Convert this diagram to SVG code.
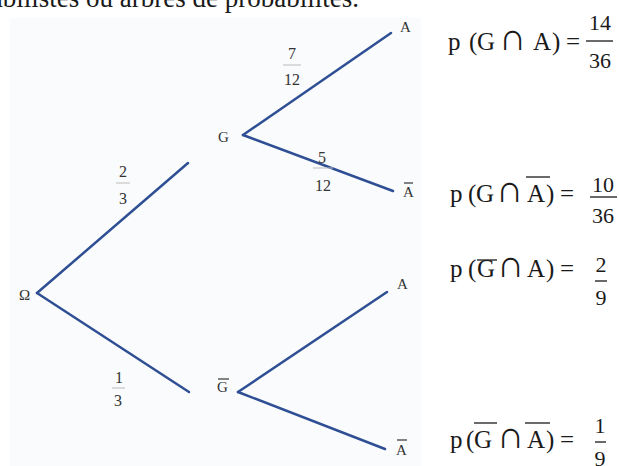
<svg xmlns="http://www.w3.org/2000/svg" width="619" height="466" viewBox="0 0 619 466">
<style>
.t{font-family:"Liberation Serif","DejaVu Serif",serif;fill:#1a1a1a}
.n{font-size:15px;fill:#333}
.fr{font-size:16px;fill:#333;text-anchor:middle}
.f{font-size:25px}
.c{font-family:"DejaVu Sans",sans-serif;font-size:38px;font-weight:200}
.d{font-size:22px;text-anchor:middle}
.e{stroke:#2f4f94;stroke-width:2.5;fill:none;stroke-linecap:round}
.fl{stroke:#bbb;stroke-width:1}
.ob{stroke:#333;stroke-width:1.2}
.fb{stroke:#1a1a1a;stroke-width:1.3}
</style>
<rect width="619" height="466" fill="#fff"/>
<rect x="10" y="18" width="411" height="448" fill="#fafbfc"/>
<text class="t" x="359" y="7" font-size="27" text-anchor="end">babilistes ou arbres de probabilités.</text>
<g id="connectors">
<line class="e" x1="37" y1="293" x2="188" y2="163"/>
<line class="e" x1="37" y1="293" x2="189" y2="392"/>
<line class="e" x1="243" y1="135" x2="391" y2="33"/>
<line class="e" x1="243" y1="135" x2="393" y2="191"/>
<line class="e" x1="238" y1="392" x2="387" y2="292"/>
<line class="e" x1="238" y1="392" x2="385" y2="449"/>
</g>
<g id="label-2-3"><text class="t fr" x="123" y="177">2</text><line class="fl" x1="116" y1="183" x2="130" y2="183"/><text class="t fr" x="123" y="204">3</text></g>
<g id="label-1-3"><text class="t fr" x="119" y="383">1</text><line class="fl" x1="112" y1="388" x2="125" y2="388"/><text class="t fr" x="118" y="406">3</text></g>
<g id="label-7-12"><text class="t fr" x="292" y="59">7</text><line class="fl" x1="283" y1="65" x2="301" y2="65"/><text class="t fr" x="292" y="85">12</text></g>
<g id="label-5-12"><text class="t fr" x="322" y="163">5</text><line class="fl" x1="313" y1="168" x2="333" y2="168"/><text class="t fr" x="323" y="191">12</text></g>
<g id="node-omega"><text class="t n" x="19" y="300">Ω</text></g>
<g id="node-G"><text class="t n" x="218" y="142">G</text></g>
<g id="node-Gbar"><text class="t n" x="217" y="392">G</text><line class="ob" x1="218" y1="379" x2="229" y2="379"/></g>
<g id="node-A1"><text class="t n" x="400" y="32">A</text></g>
<g id="node-Abar1"><text class="t n" x="403" y="197">A</text><line class="ob" x1="404" y1="183" x2="413" y2="183"/></g>
<g id="node-A2"><text class="t n" x="397" y="289">A</text></g>
<g id="node-Abar2"><text class="t n" x="396" y="455">A</text><line class="ob" x1="397" y1="440" x2="407" y2="440"/></g>
<g id="formula-1">
<text class="t f" y="50"><tspan x="448">p</tspan><tspan x="469">(</tspan><tspan x="477">G</tspan><tspan class="c" x="499">∩</tspan><tspan x="533">A</tspan><tspan x="552">)</tspan><tspan x="566">=</tspan></text>
<text class="t d" x="600" y="30">14</text><line class="fb" x1="586" y1="41" x2="613" y2="41"/><text class="t d" x="600" y="68">36</text>
</g>
<g id="formula-2">
<text class="t f" y="202"><tspan x="450">p</tspan><tspan x="468">(</tspan><tspan x="476">G</tspan><tspan class="c" x="496">∩</tspan><tspan x="527">A</tspan><tspan x="546">)</tspan><tspan x="560">=</tspan></text>
<line class="fb" x1="526" y1="177" x2="550" y2="177"/>
<text class="t d" x="603" y="192">10</text><line class="fb" x1="590" y1="197" x2="617" y2="197"/><text class="t d" x="603" y="223">36</text>
</g>
<g id="formula-3">
<text class="t f" y="277"><tspan x="450">p</tspan><tspan x="468">(</tspan><tspan x="477">G</tspan><tspan class="c" x="497">∩</tspan><tspan x="527">A</tspan><tspan x="546">)</tspan><tspan x="560">=</tspan></text>
<line class="fb" x1="477" y1="260" x2="497" y2="260"/>
<text class="t d" x="601" y="272">2</text><line class="fb" x1="595" y1="281" x2="607" y2="281"/><text class="t d" x="601" y="305">9</text>
</g>
<g id="formula-4">
<text class="t f" y="448"><tspan x="450">p</tspan><tspan x="466">(</tspan><tspan x="474">G</tspan><tspan class="c" x="497">∩</tspan><tspan x="527">A</tspan><tspan x="546">)</tspan><tspan x="560">=</tspan></text>
<line class="fb" x1="474" y1="423" x2="497" y2="423"/><line class="fb" x1="525" y1="423" x2="550" y2="423"/>
<text class="t d" x="600" y="433">1</text><line class="fb" x1="595" y1="442" x2="606" y2="442"/><text class="t d" x="600" y="466">9</text>
</g>
</svg>
